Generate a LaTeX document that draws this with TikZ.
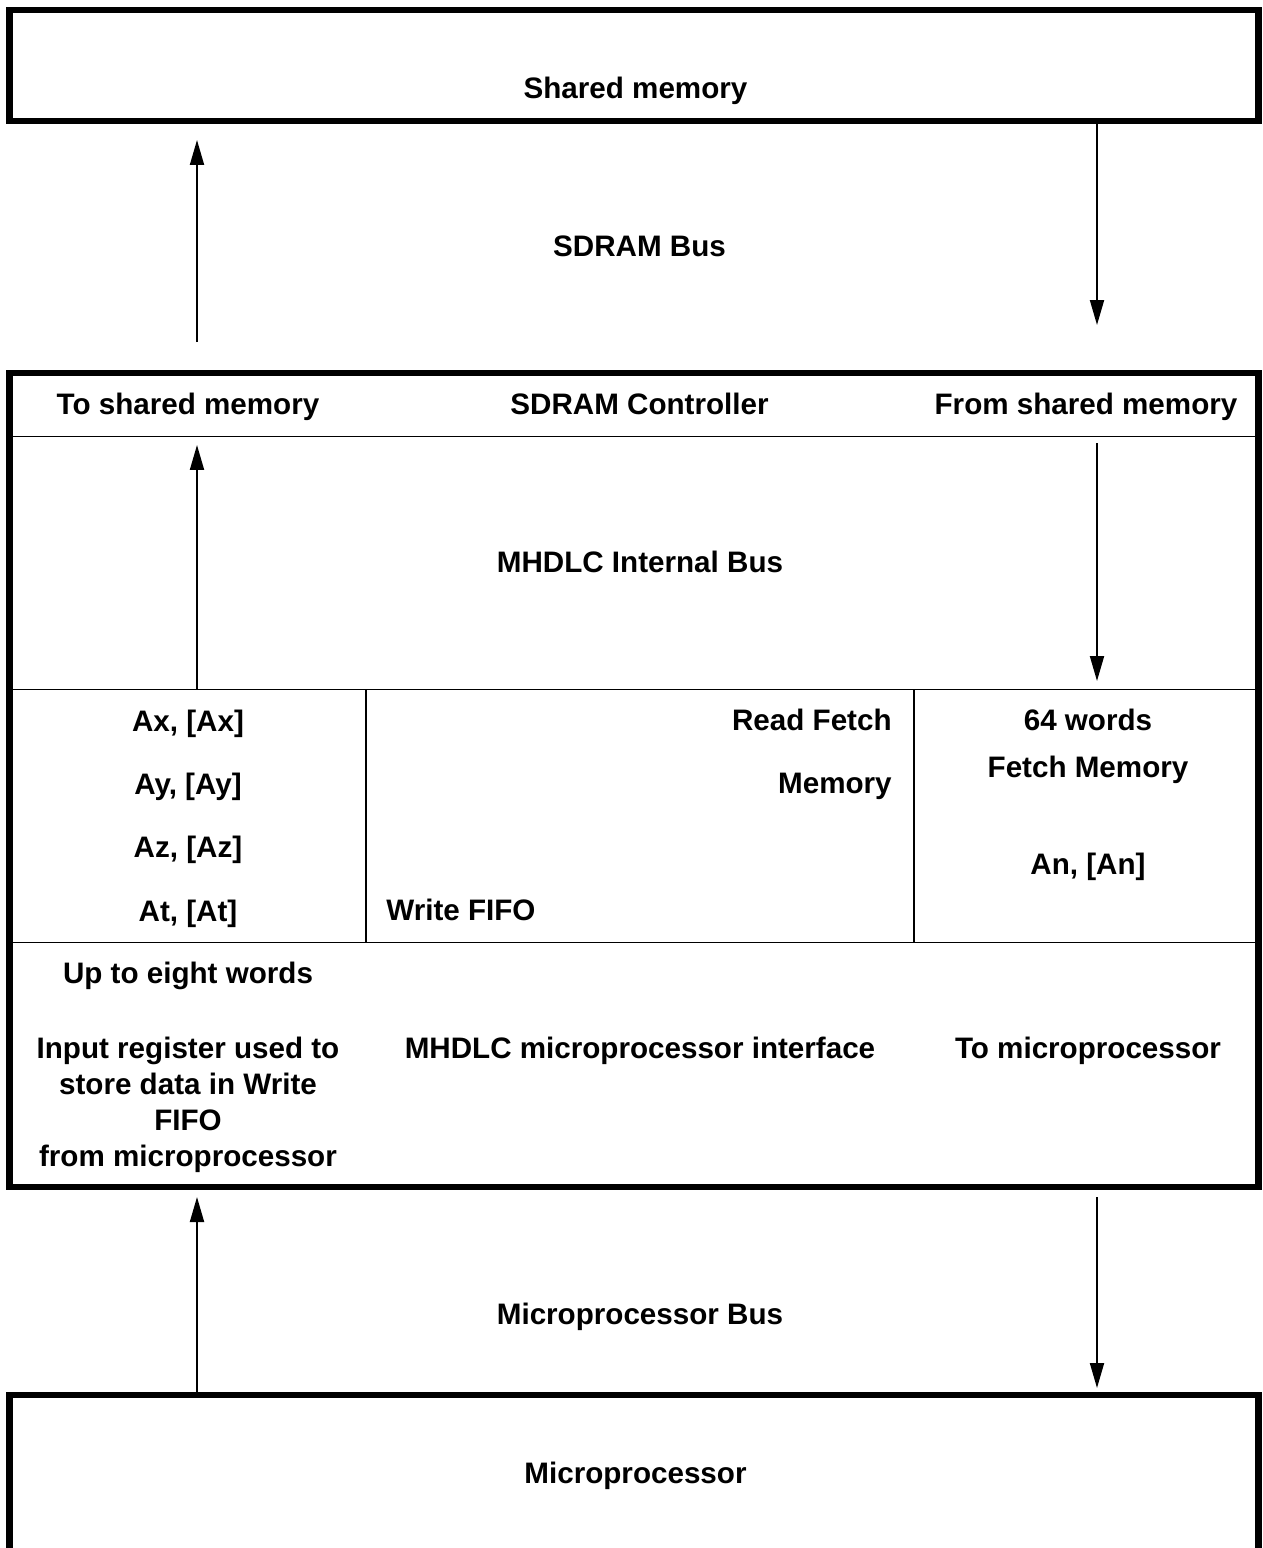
\documentclass[tikz,border=0pt]{standalone}
\usepackage{fontspec}
\setmainfont{Liberation Sans}
\usetikzlibrary{arrows.meta}
\tikzset{
    txt/.style={anchor=base, inner sep=0pt, font=\bfseries\fontsize{16.85}{20.5}\selectfont},
    heavy/.style={line width=3.7pt},
    rule/.style={line width=1.1pt},
    bus/.style={line width=1.1pt, -{Triangle[length=0.5cm, width=0.28cm]}}
}
\begin{document}
\begin{tikzpicture}[x=0.02cm, y=-0.02cm]
                \useasboundingbox (0,0) rectangle (1262,1548);
                % boxes
                \draw[heavy] (9.5,10) rectangle (1258.5,121);
                \draw[heavy] (9.5,373) rectangle (1258.5,1187);
                \draw[heavy] (9.5,1560) |- (1258.5,1395) -- (1258.5,1560);
                \draw[rule] (9.5,436.5) -- (1258.5,436.5);
                \draw[rule] (9.5,689.5) -- (1258.5,689.5);
                \draw[rule] (9.5,942.5) -- (1258.5,942.5);
                \draw[rule] (366,689.5) -- (366,942.5);
                \draw[rule] (914,689.5) -- (914,942.5);
                % texts
                \node[txt] (shmem) at (635.5,98.5) {Shared memory};
                \node[txt] (sdbus) at (639.5,256.5) {SDRAM Bus};
                \node[txt] (toshm) at (188,414.5) {To shared memory};
                \node[txt] (sdctl) at (639.5,414.5) {SDRAM Controller};
                \node[txt] (fromshm) at (1086,414.5) {From shared memory};
                \node[txt] (intbus) at (640,572.5) {MHDLC Internal Bus};
                \node[txt] (ax) at (188,731.5) {Ax, [Ax]};
                \node[txt] (ay) at (188,794.5) {Ay, [Ay]};
                \node[txt] (az) at (188,857.5) {Az, [Az]};
                \node[txt] (at) at (188,921.5) {At, [At]};
                \node[txt, anchor=base east] (rdfetch) at (892,730.5) {Read Fetch};
                \node[txt, anchor=base east] (rdmem) at (892,793.5) {Memory};
                \node[txt, anchor=base west] (wrfifo) at (386,920.5) {Write FIFO};
                \node[txt] (words) at (1088,730.5) {64 words};
                \node[txt] (fetchmem) at (1088,777.5) {Fetch Memory};
                \node[txt] (an) at (1088,874.5) {An, [An]};
                \node[txt] (eight) at (188,983.5) {Up to eight words};
                \node[txt, anchor=north, align=center] (inreg) at (188,1037) {Input register used to\\store data in Write\\FIFO\\from microprocessor};
                \node[txt] (mpif) at (640,1058.5) {MHDLC microprocessor interface};
                \node[txt] (tomp) at (1088,1058.5) {To microprocessor};
                \node[txt] (mpbus) at (640,1324.5) {Microprocessor Bus};
                \node[txt] (mp) at (635.5,1483.5) {Microprocessor};
                % bus arrows
                \coordinate (sdupS) at (197,342);
                \coordinate (sdupE) at (197,140);
                \coordinate (sddnS) at (1097,124);
                \coordinate (sddnE) at (1097,325);
                \coordinate (inupS) at (197,689.5);
                \coordinate (inupE) at (197,445);
                \coordinate (indnS) at (1097,443);
                \coordinate (indnE) at (1097,681);
                \coordinate (mpupS) at (197,1392);
                \coordinate (mpupE) at (197,1197);
                \coordinate (mpdnS) at (1097,1197);
                \coordinate (mpdnE) at (1097,1388);
                \draw[bus] (sdupS) -- (sdupE);
                \draw[bus] (sddnS) -- (sddnE);
                \draw[bus] (inupS) -- (inupE);
                \draw[bus] (indnS) -- (indnE);
                \draw[bus] (mpupS) -- (mpupE);
                \draw[bus] (mpdnS) -- (mpdnE);
            \end{tikzpicture}
\end{document}
